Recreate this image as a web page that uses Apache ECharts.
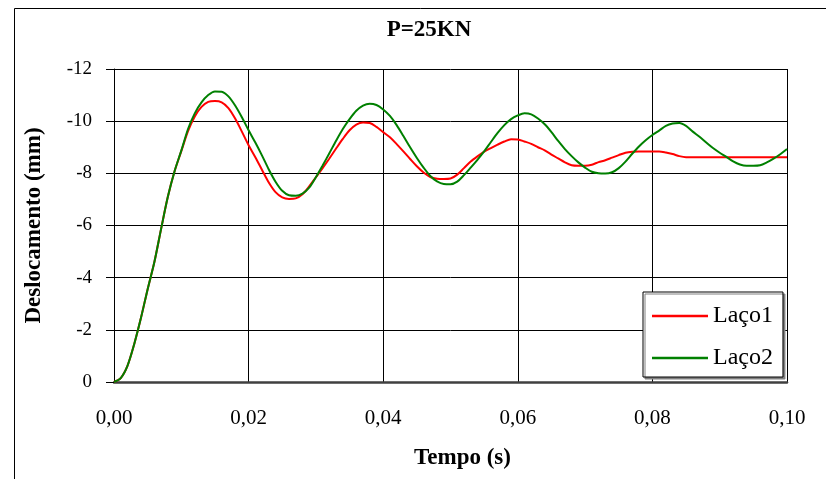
<!DOCTYPE html>
<html><head><meta charset="utf-8">
<script src="https://cdn.jsdelivr.net/npm/echarts@6/dist/echarts.min.js"></script>
<style>html,body{margin:0;padding:0;background:#fff}#c{width:826px;height:479px}</style>
</head><body><div id="c"></div>
<script>
const titleText = 'P=25KN';
const xName = 'Tempo (s)';
const yName = 'Deslocamento (mm)';
const seriesNames = ['Laço1', 'Laço2'];
const xTickLabels = ['0,00', '0,02', '0,04', '0,06', '0,08', '0,10'];
const yTickLabels = ['-12', '-10', '-8', '-6', '-4', '-2', '0'];
const time = [
 0.000,0.001,0.002,0.003,0.004,0.005,0.006,0.007,0.008,0.009,
 0.010,0.011,0.012,0.013,0.014,0.015,0.016,0.017,0.018,0.019,
 0.020,0.021,0.022,0.023,0.024,0.025,0.026,0.027,0.028,0.029,
 0.030,0.031,0.032,0.033,0.034,0.035,0.036,0.037,0.038,0.039,
 0.040,0.041,0.042,0.043,0.044,0.045,0.046,0.047,0.048,0.049,
 0.050,0.051,0.052,0.053,0.054,0.055,0.056,0.057,0.058,0.059,
 0.060,0.061,0.062,0.063,0.064,0.065,0.066,0.067,0.068,0.069,
 0.070,0.071,0.072,0.073,0.074,0.075,0.076,0.077,0.078,0.079,
 0.080,0.081,0.082,0.083,0.084,0.085,0.086,0.087,0.088,0.089,
 0.090,0.091,0.092,0.093,0.094,0.095,0.096,0.097,0.098,0.099,
 0.100
];
const laco1 = [
 0,-0.15,-0.62,-1.45,-2.45,-3.56,-4.6,-5.87,-7.1,-8.08,
 -8.85,-9.62,-10.18,-10.55,-10.74,-10.77,-10.72,-10.5,-10.1,-9.6,
 -9.08,-8.62,-8.13,-7.65,-7.28,-7.08,-7.02,-7.04,-7.2,-7.5,
 -7.85,-8.2,-8.57,-8.95,-9.32,-9.65,-9.87,-9.95,-9.93,-9.78,
 -9.58,-9.38,-9.12,-8.84,-8.55,-8.27,-8.03,-7.86,-7.79,-7.78,
 -7.8,-7.95,-8.2,-8.45,-8.65,-8.83,-8.97,-9.1,-9.22,-9.31,
 -9.3,-9.22,-9.13,-9.0,-8.88,-8.72,-8.57,-8.42,-8.31,-8.29,
 -8.29,-8.33,-8.43,-8.5,-8.6,-8.7,-8.79,-8.83,-8.84,-8.84,
 -8.84,-8.84,-8.8,-8.74,-8.66,-8.62,-8.62,-8.62,-8.62,-8.62,
 -8.62,-8.62,-8.62,-8.62,-8.62,-8.62,-8.62,-8.62,-8.62,-8.62,
 -8.62
];
const laco2 = [
 0,-0.15,-0.62,-1.45,-2.45,-3.56,-4.6,-5.87,-7.1,-8.08,
 -8.87,-9.7,-10.3,-10.72,-11.0,-11.14,-11.13,-10.95,-10.6,-10.15,
 -9.65,-9.18,-8.68,-8.15,-7.68,-7.33,-7.16,-7.14,-7.22,-7.45,
 -7.85,-8.3,-8.77,-9.25,-9.7,-10.08,-10.4,-10.6,-10.67,-10.62,
 -10.45,-10.2,-9.85,-9.43,-9.0,-8.59,-8.22,-7.9,-7.69,-7.59,
 -7.58,-7.68,-7.93,-8.22,-8.52,-8.84,-9.2,-9.55,-9.85,-10.08,
 -10.22,-10.3,-10.26,-10.1,-9.88,-9.58,-9.24,-8.93,-8.66,-8.42,
 -8.22,-8.06,-8.0,-7.99,-8.04,-8.2,-8.45,-8.75,-9.03,-9.27,
 -9.47,-9.64,-9.82,-9.91,-9.93,-9.82,-9.6,-9.4,-9.18,-8.97,
 -8.79,-8.63,-8.46,-8.34,-8.29,-8.29,-8.31,-8.42,-8.56,-8.73,
 -8.93
];
const colors = ['#ff0000', '#008000'];

const FONT = "'Liberation Serif', 'Times New Roman', serif";
const chart = echarts.init(document.getElementById('c'), null, {renderer: 'canvas'});
function pairs(ys) { return time.map((t, i) => [t, ys[i]]); }

chart.setOption({
  animation: false,
  backgroundColor: '#fff',
  title: {
    text: titleText,
    left: 429, top: 19, textAlign: 'center', padding: 0,
    textStyle: {fontFamily: FONT, fontWeight: 'bold', fontSize: 23, color: '#000'}
  },
  graphic: [{
    type: 'rect', silent: true,
    shape: {x: 14.5, y: 8.5, width: 900, height: 900},
    style: {fill: 'none', stroke: '#000', lineWidth: 1}
  }],
  grid: {left: 114, right: 39, top: 69, bottom: 97, containLabel: false},
  legend: {
    orient: 'vertical', left: 643, top: 292,
    padding: [12, 10, 7, 9], itemGap: 18,
    itemWidth: 56, itemHeight: 2.5, icon: 'rect',
    backgroundColor: '#fff', borderColor: '#000', borderWidth: 1,
    shadowColor: '#808080', shadowOffsetX: 2, shadowOffsetY: 2, shadowBlur: 0,
    textStyle: {fontFamily: FONT, fontSize: 24, color: '#000'},
    data: seriesNames
  },
  xAxis: {
    type: 'value', min: 0, max: 0.1, interval: 0.02,
    name: xName, nameLocation: 'middle', nameGap: 65,
    nameTextStyle: {fontFamily: FONT, fontWeight: 'bold', fontSize: 23, color: '#000', padding: [0, 0, 0, 24]},
    axisLine: {show: true, onZero: false, lineStyle: {color: '#404040', width: 2.5}},
    axisTick: {show: false},
    axisLabel: {
      margin: 26, fontFamily: FONT, fontSize: 21, color: '#000',
      formatter: v => xTickLabels[Math.round(v / 0.02)]
    },
    splitLine: {show: true, lineStyle: {color: '#000', width: 1}}
  },
  yAxis: {
    type: 'value', min: -12, max: 0, interval: 2, inverse: true,
    name: yName, nameLocation: 'middle', nameGap: 68, nameRotate: 90,
    nameTextStyle: {fontFamily: FONT, fontWeight: 'bold', fontSize: 23, color: '#000', padding: [0, 0, 0, 0]},
    axisLine: {show: true, onZero: false, lineStyle: {color: '#000', width: 1}},
    axisTick: {show: true, inside: false, length: 8, lineStyle: {color: '#000', width: 1}},
    axisLabel: {
      margin: 22, fontFamily: FONT, fontSize: 19, color: '#000',
      formatter: v => yTickLabels[Math.round((v + 12) / 2)]
    },
    splitLine: {show: true, lineStyle: {color: '#000', width: 1}}
  },
  series: [
    {name: seriesNames[0], type: 'line', data: pairs(laco1), showSymbol: false, symbol: 'none',
     smooth: 0.3, lineStyle: {color: colors[0], width: 2}, itemStyle: {color: colors[0]}, z: 2},
    {name: seriesNames[1], type: 'line', data: pairs(laco2), showSymbol: false, symbol: 'none',
     smooth: 0.3, lineStyle: {color: colors[1], width: 2}, itemStyle: {color: colors[1]}, z: 3}
  ]
});
</script>
</body></html>
